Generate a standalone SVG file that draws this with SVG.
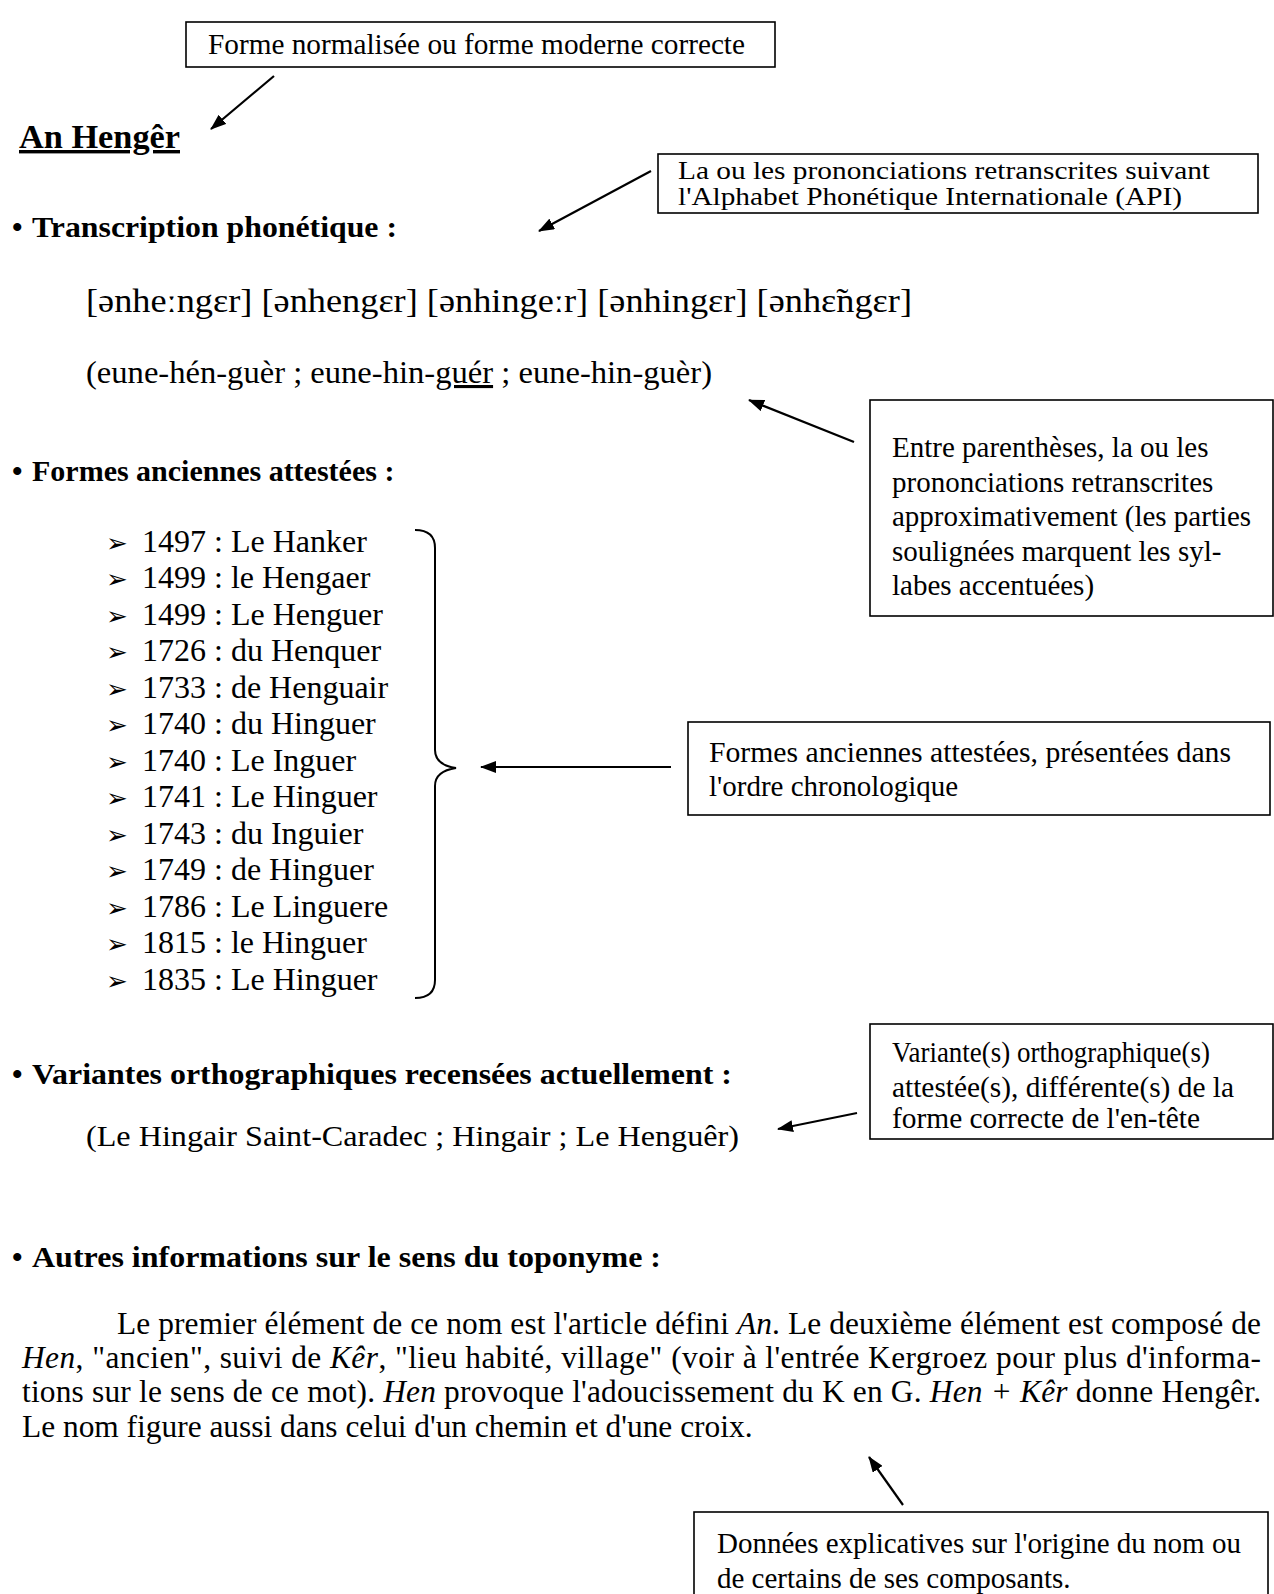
<svg xmlns="http://www.w3.org/2000/svg" width="1274" height="1594" viewBox="0 0 1274 1594">
<style>
.t{font-family:"Liberation Serif","Times New Roman",serif;fill:#000}
.b{font-weight:bold}
.i{font-style:italic}
.bx{fill:#fff;stroke:#000;stroke-width:1.6}
.ar{stroke:#000;stroke-width:2.2;fill:none;marker-end:url(#ah)}
.br{stroke:#000;stroke-width:2;fill:none}
.bt{font-size:29px}
.h{font-size:30px;font-weight:bold}
.li{font-size:32px}
.p{font-size:31.4px}
.sym{font-family:"DejaVu Sans",sans-serif;font-size:26px}
</style>
<defs>
<marker id="ah" viewBox="0 0 16 12" refX="15" refY="6" markerWidth="16" markerHeight="12" orient="auto" markerUnits="userSpaceOnUse"><path d="M0,0 L16,6 L0,12 z" fill="#000"/></marker>
</defs>
<rect width="1274" height="1594" fill="#fff"/>

<g id="connectors">
<line class="ar" x1="274" y1="76" x2="211" y2="129"/>
<line class="ar" x1="651" y1="171" x2="539" y2="231"/>
<line class="ar" x1="854" y1="442" x2="749" y2="400"/>
<line class="ar" x1="671" y1="767" x2="481" y2="767"/>
<line class="ar" x1="857" y1="1113" x2="778" y2="1129"/>
<line class="ar" x1="903" y1="1505" x2="869" y2="1457"/>
<path class="br" d="M415,530 Q435,530 435,548 L435,750 Q435,765 456,768 Q435,771 435,786 L435,980 Q435,998 415,998"/>
</g>

<g id="box-forme-normalisee">
<rect class="bx" x="186" y="22" width="589" height="45"/>
<text class="t bt" x="208" y="54" textLength="537" lengthAdjust="spacingAndGlyphs">Forme normalisée ou forme moderne correcte</text>
</g>

<g id="title">
<text class="t b" x="19" y="148" font-size="34" text-decoration="underline" textLength="161" lengthAdjust="spacingAndGlyphs">An Hengêr</text>
</g>

<g id="box-api">
<rect class="bx" x="658" y="154" width="600" height="59"/>
<text class="t" x="678" y="179" font-size="25" textLength="532" lengthAdjust="spacingAndGlyphs">La ou les prononciations retranscrites suivant</text>
<text class="t" x="678" y="205" font-size="25" textLength="504" lengthAdjust="spacingAndGlyphs">l'Alphabet Phonétique Internationale (API)</text>
</g>

<g id="section-transcription">
<text class="t h" x="12" y="237">•</text>
<text class="t h" x="32" y="237" textLength="365" lengthAdjust="spacingAndGlyphs">Transcription phonétique :</text>
<text class="t" x="86" y="312" font-size="34" textLength="826" lengthAdjust="spacingAndGlyphs">[ənheːngɛr] [ənhengɛr] [ənhingeːr] [ənhingɛr] [ənhɛ̃ngɛr]</text>
<text class="t" x="86" y="383" font-size="31" textLength="626" lengthAdjust="spacingAndGlyphs">(eune-hén-guèr ; eune-hin-<tspan text-decoration="underline">guér</tspan> ; eune-hin-guèr)</text>
</g>

<g id="box-parentheses">
<rect class="bx" x="870" y="400" width="403" height="216"/>
<text class="t bt" x="892" y="457">Entre parenthèses, la ou les</text>
<text class="t bt" x="892" y="492">prononciations retranscrites</text>
<text class="t bt" x="892" y="526">approximativement (les parties</text>
<text class="t bt" x="892" y="561">soulignées marquent les syl-</text>
<text class="t bt" x="892" y="595">labes accentuées)</text>
</g>

<g id="section-formes">
<text class="t h" x="12" y="481">•</text>
<text class="t h" x="32" y="481">Formes anciennes attestées :</text>
</g>

<g id="list-formes" class="t li">
<text class="sym" x="106" y="552">➢</text><text x="142" y="552">1497 : Le Hanker</text>
<text class="sym" x="106" y="588">➢</text><text x="142" y="588">1499 : le Hengaer</text>
<text class="sym" x="106" y="625">➢</text><text x="142" y="625">1499 : Le Henguer</text>
<text class="sym" x="106" y="661">➢</text><text x="142" y="661">1726 : du Henquer</text>
<text class="sym" x="106" y="698">➢</text><text x="142" y="698">1733 : de Henguair</text>
<text class="sym" x="106" y="734">➢</text><text x="142" y="734">1740 : du Hinguer</text>
<text class="sym" x="106" y="771">➢</text><text x="142" y="771">1740 : Le Inguer</text>
<text class="sym" x="106" y="807">➢</text><text x="142" y="807">1741 : Le Hinguer</text>
<text class="sym" x="106" y="844">➢</text><text x="142" y="844">1743 : du Inguier</text>
<text class="sym" x="106" y="880">➢</text><text x="142" y="880">1749 : de Hinguer</text>
<text class="sym" x="106" y="917">➢</text><text x="142" y="917">1786 : Le Linguere</text>
<text class="sym" x="106" y="953">➢</text><text x="142" y="953">1815 : le Hinguer</text>
<text class="sym" x="106" y="990">➢</text><text x="142" y="990">1835 : Le Hinguer</text>
</g>

<g id="box-chronologique">
<rect class="bx" x="688" y="722" width="582" height="93"/>
<text class="t bt" x="709" y="762" textLength="522" lengthAdjust="spacingAndGlyphs">Formes anciennes attestées, présentées  dans</text>
<text class="t bt" x="709" y="796">l'ordre chronologique</text>
</g>

<g id="box-variantes">
<rect class="bx" x="870" y="1024" width="403" height="115"/>
<text class="t bt" x="892" y="1062" textLength="318" lengthAdjust="spacingAndGlyphs">Variante(s) orthographique(s)</text>
<text class="t bt" x="892" y="1097" textLength="342" lengthAdjust="spacingAndGlyphs">attestée(s), différente(s) de la</text>
<text class="t bt" x="892" y="1128" textLength="308" lengthAdjust="spacingAndGlyphs">forme correcte de l'en-tête</text>
</g>

<g id="section-variantes">
<text class="t h" x="12" y="1084">•</text>
<text class="t h" x="32" y="1084" textLength="700" lengthAdjust="spacingAndGlyphs">Variantes orthographiques recensées actuellement :</text>
<text class="t" x="86" y="1146" font-size="30" textLength="653" lengthAdjust="spacingAndGlyphs">(Le Hingair Saint-Caradec ; Hingair ; Le Henguêr)</text>
</g>

<g id="section-autres">
<text class="t h" x="12" y="1267">•</text>
<text class="t h" x="32" y="1267" textLength="629" lengthAdjust="spacingAndGlyphs">Autres informations sur le sens du toponyme :</text>
<text class="t p" x="117" y="1334" textLength="1144" lengthAdjust="spacing">Le premier élément de ce nom est l'article défini <tspan class="i">An</tspan>. Le deuxième élément est composé de</text>
<text class="t p" x="22" y="1368" textLength="1239" lengthAdjust="spacing"><tspan class="i">Hen</tspan>, "ancien", suivi de <tspan class="i">Kêr</tspan>, "lieu habité, village" (voir à l'entrée Kergroez pour plus d'informa-</text>
<text class="t p" x="22" y="1402" textLength="1239" lengthAdjust="spacing">tions sur le sens de ce mot). <tspan class="i">Hen</tspan> provoque l'adoucissement du K en G. <tspan class="i">Hen + Kêr</tspan> donne Hengêr.</text>
<text class="t p" x="22" y="1437">Le nom figure aussi dans celui d'un chemin et d'une croix.</text>
</g>

<g id="box-donnees">
<rect class="bx" x="694" y="1512" width="574" height="100"/>
<text class="t bt" x="717" y="1553">Données explicatives sur l'origine du nom ou</text>
<text class="t bt" x="717" y="1588">de certains de ses composants.</text>
</g>
</svg>
